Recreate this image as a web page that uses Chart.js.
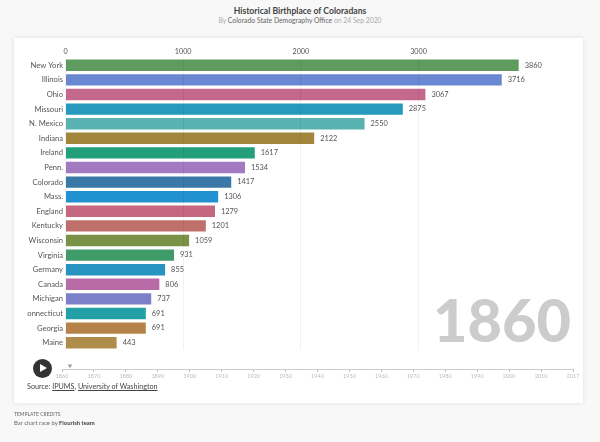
<!DOCTYPE html>
<html>
<head>
<meta charset="utf-8">
<title>Historical Birthplace of Coloradans</title>
<script src="https://cdn.jsdelivr.net/npm/chart.js@4/dist/chart.umd.min.js"></script>
<style>
  body { margin: 0; width: 600px; height: 442px; overflow: hidden; position: relative; background: #f8f8f8; font-family: Lato, sans-serif; color: #444; }
  .abs { position: absolute; white-space: nowrap; }
  #titulo { left: 0; width: 600px; top: 4px; text-align: center; font-size: 8.6px; line-height: 14px; font-weight: 700; color: #444; }
  #subtitulo { left: 0; width: 600px; top: 15px; text-align: center; font-size: 6.8px; line-height: 11px; color: #aaa; }
  #subtitulo b { font-weight: 400; color: #666; }
  #tarjeta { left: 14px; top: 38px; width: 569px; height: 365px; background: #fff; box-shadow: 0 0 5px rgba(0,0,0,.1); }
  #grafico { position: absolute; left: 27px; top: 42px; }
  #linea { position: absolute; left: 50px; top: 358px; }
  #anio { right: 29px; top: 279px; font-size: 59.5px; line-height: 80px; font-weight: 900; color: #ccc; }
  #play { left: 33px; top: 359px; width: 19px; height: 19px; border-radius: 50%; background: #333; }
  #play i { position: absolute; left: 7px; top: 5px; border-left: 7px solid #fff; border-top: 4.5px solid transparent; border-bottom: 4.5px solid transparent; }
  #fuente { left: 27px; top: 381px; font-size: 7.2px; line-height: 12px; color: #444; }
  #fuente u { text-underline-offset: 1px; }
  #creditos { left: 14px; top: 410px; font-size: 5px; line-height: 8px; color: #666; text-transform: uppercase; }
  #creditos2 { left: 14px; top: 418px; font-size: 5.9px; line-height: 9px; color: #666; }
  #creditos2 b { color: #444; }
</style>
</head>
<body>
<div class="abs" id="titulo">Historical Birthplace of Coloradans</div>
<div class="abs" id="subtitulo">By <b>Colorado State Demography Office</b> on 24 Sep 2020</div>
<div class="abs" id="tarjeta"></div>
<div class="abs" id="anio">1860</div>
<canvas id="grafico" width="556" height="308"></canvas>
<canvas id="linea" width="532" height="22"></canvas>
<div class="abs" id="play"><i></i></div>
<div class="abs" id="fuente">Source: <u>IPUMS</u>, <u>University of Washington</u></div>
<div class="abs" id="creditos">Template credits</div>
<div class="abs" id="creditos2">Bar chart race by <b>Flourish team</b></div>

<script>
const lugares = ["New York", "Illinois", "Ohio", "Missouri", "N. Mexico", "Indiana", "Ireland", "Penn.", "Colorado", "Mass.",
  "England", "Kentucky", "Wisconsin", "Virginia", "Germany", "Canada", "Michigan", "Connecticut", "Georgia", "Maine"];
const personas = [3860, 3716, 3067, 2875, 2550, 2122, 1617, 1534, 1417, 1306, 1279, 1201, 1059, 931, 855, 806, 737, 691, 691, 443];
const colores = ["#5f9a5f", "#6a88d2", "#c4688c", "#2699bd", "#58b2b0", "#a2863b", "#23a07a", "#a37ac2", "#3a78a8", "#2291d0",
  "#c4677f", "#c0706c", "#7a9148", "#3f9b68", "#2793c0", "#b96ba8", "#7c80c8", "#23a0a5", "#b5824a", "#b08c4a"];
const marcasEje = [0, 1000, 2000, 3000];
const anios = [1860, 1870, 1880, 1890, 1900, 1910, 1920, 1930, 1940, 1950, 1960, 1970, 1980, 1990, 2000, 2010, 2017];
// los anios van a paso fijo en la linea de tiempo, el cursor esta poco despues del primero
const posicionActual = [0.25];

// numero al final de cada barra
const etiquetasBarras = {
  id: "etiquetasBarras",
  afterDatasetsDraw(chart) {
    const ctx = chart.ctx;
    ctx.save();
    ctx.font = "7.4px Lato";
    ctx.fillStyle = "#555";
    ctx.textBaseline = "middle";
    chart.getDatasetMeta(0).data.forEach((barra, i) => {
      ctx.fillText(personas[i], barra.x + 5, barra.y);
    });
    ctx.restore();
  }
};

new Chart(document.getElementById("grafico"), {
  type: "bar",
  data: {
    labels: lugares,
    datasets: [{
      data: personas,
      backgroundColor: colores,
      borderColor: "rgba(255,255,255,0.25)",
      borderWidth: 1,
      barPercentage: 0.92,
      categoryPercentage: 1
    }]
  },
  options: {
    indexAxis: "y",
    responsive: false,
    animation: false,
    layout: { padding: { right: 48 } },
    plugins: { legend: { display: false }, tooltip: { enabled: false } },
    scales: {
      x: {
        position: "top",
        min: 0,
        max: 3990,
        border: { display: false },
        grid: { color: "rgba(0,0,0,0.05)", z: 1, drawTicks: false, lineWidth: 1 },
        afterBuildTicks(escala) { escala.ticks = marcasEje.map(v => ({ value: v })); },
        afterFit(escala) { escala.height = 16; },
        ticks: { padding: 2, maxRotation: 0, color: "#555", font: { family: "Lato", size: 7.2 }, callback: v => String(v) }
      },
      y: {
        border: { display: false },
        grid: { display: false, drawTicks: false },
        afterFit(escala) { escala.width = 38.5; escala.paddingTop = 0; escala.paddingBottom = 0; },
        ticks: { autoSkip: false, padding: 2.5, color: "#555", font: { family: "Lato", size: 7.6 } }
      }
    }
  },
  plugins: [etiquetasBarras]
});

// linea de tiempo
new Chart(document.getElementById("linea"), {
  type: "scatter",
  data: {
    datasets: [{
      data: posicionActual.map(p => ({ x: p, y: 0.9 })),
      pointStyle: "triangle",
      rotation: 180,
      radius: 2.5,
      backgroundColor: "#999",
      borderWidth: 0,
      clip: false
    }]
  },
  options: {
    responsive: false,
    animation: false,
    layout: { padding: { left: 12, right: 9 } },
    plugins: { legend: { display: false }, tooltip: { enabled: false } },
    scales: {
      x: {
        type: "linear",
        min: 0,
        max: anios.length - 1,
        border: { color: "#ccc" },
        grid: { drawOnChartArea: false, color: "#bbb", tickLength: 3 },
        afterBuildTicks(escala) { escala.ticks = anios.map((a, i) => ({ value: i })); },
        ticks: { autoSkip: false, maxRotation: 0, padding: 1, color: "#bbb", font: { family: "Lato", size: 5.5 }, callback: v => String(anios[v]) }
      },
      y: { display: false, min: 0, max: 2 }
    }
  }
});
</script>
</body>
</html>
